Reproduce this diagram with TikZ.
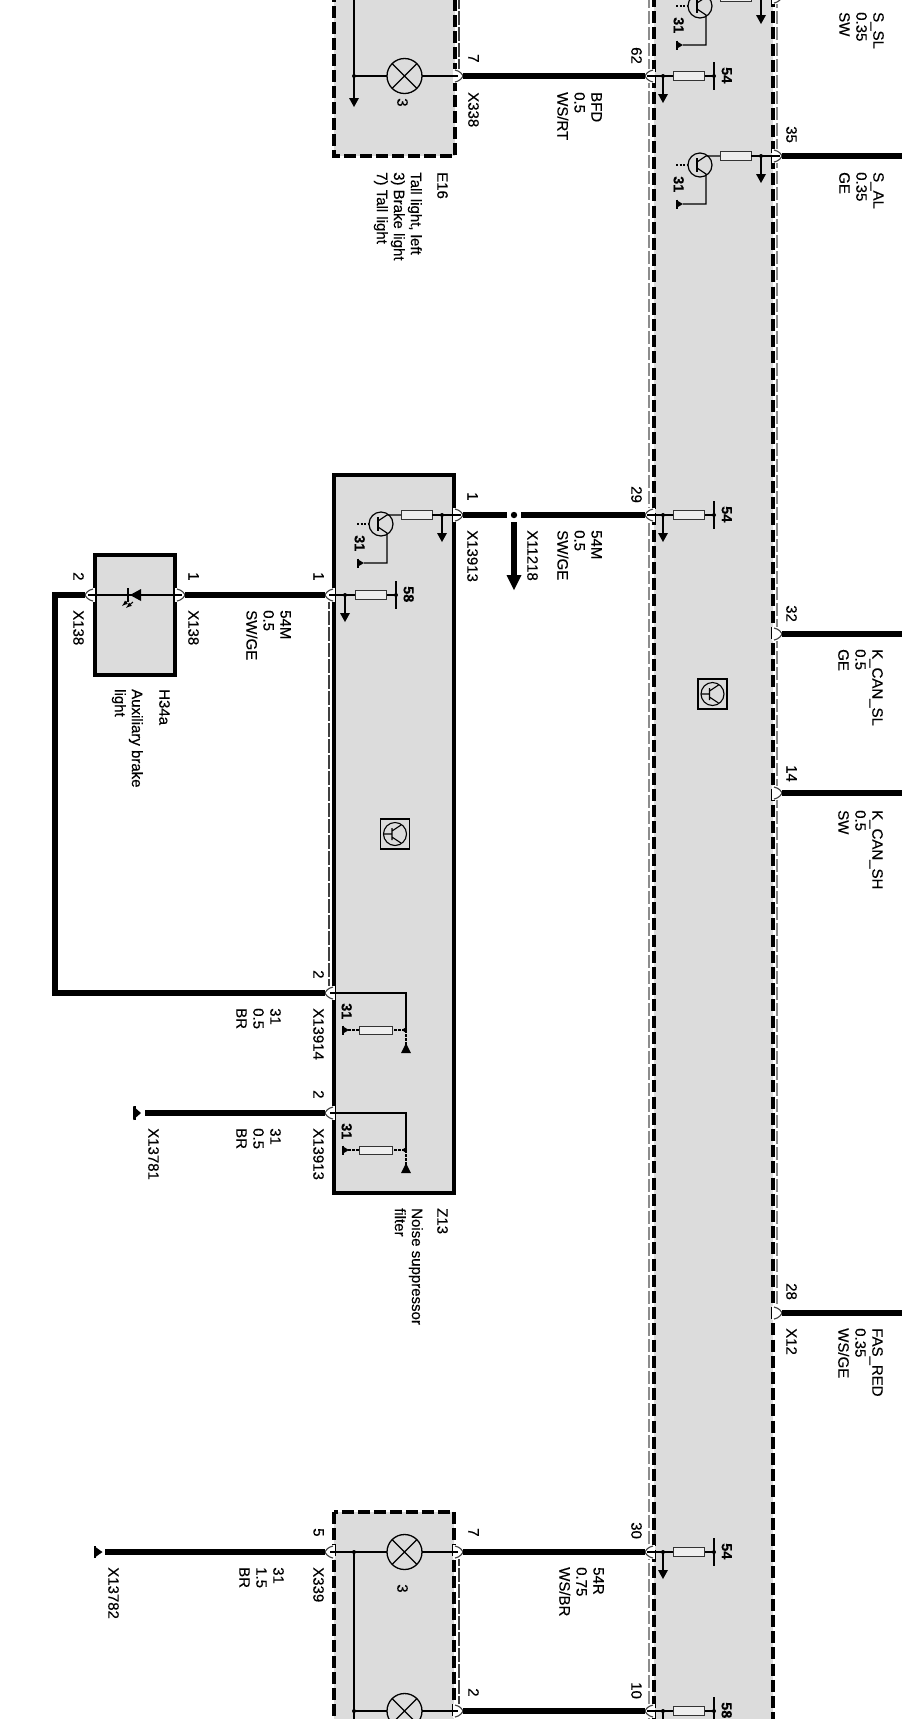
\documentclass[tikz,border=0pt]{standalone}
\usepackage{fontspec}
\setmainfont{Liberation Sans}[RawFeature={embolden=0.35}]
\newcounter{lblc}
\definecolor{boxgray}{HTML}{DCDCDC}
\definecolor{fusegray}{HTML}{EEEEEE}
\tikzset{
  wire/.style={line width=5.2pt,black,line cap=butt,line join=miter},
  thin wire/.style={line width=1.2pt,black},
  solidbox/.style={draw=black,line width=3.6pt,fill=boxgray},
  dashbox/.style={draw=black,line width=3.4pt,fill=boxgray,dash pattern=on 12pt off 4pt},
  blackdash/.style={draw=black,line width=3.4pt,dash pattern=on 12pt off 4.2pt},
  graydash/.style={draw=black!45,line width=1.4pt,dash pattern=on 13pt off 3pt},
  darkdash/.style={draw=black!75,line width=1.1pt,dash pattern=on 14pt off 2pt},
  lbl/.style={rotate=-90,anchor=north west,inner sep=0pt,align=left,font=\fontsize{15}{17}\selectfont},
  blbl/.style={rotate=-90,anchor=north west,inner sep=0pt,align=left,font=\fontsize{14.5}{16}\selectfont\bfseries},
  fuse/.style={draw=black!80,line width=1pt,fill=fusegray},
}
% text: right edge of first line, top of text
\newcommand\wdLab[3]{\stepcounter{lblc}\node[lbl] (t\number\value{lblc}) at (#1,#2) {#3};}
\newcommand\wdBold[3]{\stepcounter{lblc}\node[blbl] (t\number\value{lblc}) at (#1,#2) {#3};}
% connector: name, apex x, y, direction (+1 wire to the right, -1 wire to the left)
\newcommand\wdPin[4]{%
  \coordinate (#1) at (#2,#3);
  \fill[white] ({#2-10*(#4)},#3-7) rectangle ({#2+1*(#4)},#3+7);
  \draw[black!75,line width=1.1pt] ({#2-8*(#4)},#3-6) .. controls ({#2-3*(#4)},#3-5) and ({#2-1*(#4)},#3-2) .. (#2,#3)
     .. controls ({#2-1*(#4)},#3+2) and ({#2-3*(#4)},#3+5) .. ({#2-8*(#4)},#3+6);
}
\newcommand\wdDot[2]{\fill (#1,#2) circle[radius=2];}
\newcommand\wdDown[2]{% thin arrow from junction
  \draw[thin wire] (#1,#2) -- (#1,#2+20);
  \fill (#1-5,#2+18) -- (#1+5,#2+18) -- (#1,#2+27) -- cycle;
}
\newcommand\wdGnd[2]{\fill (#1,#2-3.5) -- (#1+6,#2) -- (#1,#2+3.5) -- cycle; \draw[line width=1.2pt] (#1,#2-4.5) -- (#1,#2+4.5);}
% fuse branch beside a connector: junction x, y, value
\newcommand\wdRes[3]{%
  \draw[thin wire] (#1-16,#2) -- (#1+51,#2);
  \wdDot{#1}{#2}
  \wdDown{#1}{#2}
  \draw[fuse] (#1+10,#2-4.5) rectangle (#1+41,#2+4.5);
  \draw[thin wire] (#1+51,#2-14) -- (#1+51,#2+14);
  \wdDot{#1+51}{#2}
  \wdBold{#1+69}{#2-9}{#3}
}
% transistor with fuse: circle x, wire y
\newcommand\wdTrans[2]{%
  \draw[thin wire] (#1,#2+9) circle[radius=12];
  \draw[thin wire,dash pattern=on 2pt off 1.5pt] (#1-24,#2+9) -- (#1-12,#2+9);
  \draw[line width=1.6pt] (#1-3,#2+2) -- (#1-3,#2+16);
  \draw[thin wire] (#1-3,#2+6) -- (#1+6,#2) -- (#1+20,#2);
  \draw[thin wire] (#1-3,#2+12) -- (#1+6,#2+18) -- (#1+6,#2+48) -- (#1-17,#2+48);
  \wdGnd{#1-23}{#2+48}
  \wdBold{#1-16}{#2+20}{31}
  \draw[fuse] (#1+20,#2-4.5) rectangle (#1+51,#2+4.5);
  \draw[thin wire] (#1+51,#2) -- (#1+80,#2);
  \wdDot{#1+61}{#2}
  \wdDown{#1+61}{#2}
}
% lamp
\newcommand\wdLamp[2]{%
  \draw[line width=1.3pt] (#1,#2) circle[radius=17.5];
  \draw[line width=1.1pt] (#1-12.4,#2-12.4) -- (#1+12.4,#2+12.4) (#1-12.4,#2+12.4) -- (#1+12.4,#2-12.4);
  \draw[thin wire] (#1+17.5,#2) -- (#1+53,#2);
}
% module symbol
\newcommand\wdIcon[2]{%
  \draw[line width=1.2pt] (#1-14.5,#2-15) rectangle (#1+14.5,#2+15);
  \draw[line width=1.1pt] (#1,#2) circle[radius=11.5];
  \draw[line width=1.1pt] (#1-11.5,#2) -- (#1-3,#2) (#1-3,#2-6) -- (#1-3,#2+6) (#1-3,#2-3) -- (#1+6,#2-9) (#1-3,#2+3) -- (#1+6,#2+9);
}
% filter branch in Z13
\newcommand\wdFilter[1]{%
  \draw[thin wire] (330,#1) -- (406,#1) -- (406,#1+37);
  \draw[thin wire,dash pattern=on 3pt off 1pt] (406,#1+37) -- (406,#1+53);
  \fill (401,#1+60) -- (411,#1+60) -- (406,#1+50) -- cycle;
  \wdDot{405}{#1+37}
  \draw[thin wire,dash pattern=on 3pt off 1pt] (405,#1+37) -- (392,#1+37) (359,#1+37) -- (348,#1+37);
  \draw[fuse] (359,#1+33) rectangle (392,#1+41);
  \wdGnd{343}{#1+37}
  \wdBold{352}{#1+10}{31}
}
\begin{document}
\begin{tikzpicture}[x=1pt,y=-1pt]
\useasboundingbox (0,0) rectangle (902,1725);
\fill[white] (0,0) rectangle (902,1725);
\clip (0,0) rectangle (902,1725);

% ---- big module
\fill[boxgray] (654,-5) rectangle (773,1730);
\draw[graydash] (649,-5) -- (649,1730);
\draw[blackdash] (654,-5) -- (654,1730);
\draw[blackdash] (773,-5) -- (773,1730);
\draw[graydash] (777,-5) -- (777,1313);
\wdIcon{712.5}{694}

% ---- boxes
\path[dashbox] (334,-10) rectangle (455,156);
\draw[darkdash] (459,-5) -- (459,76);
\path[solidbox] (334,475) rectangle (454,1193);
\draw[darkdash] (329,595) -- (329,993);
\path[solidbox] (95,555) rectangle (175,675);
\path[dashbox] (334,1512) rectangle (454,1730);
\draw[darkdash] (459,1552) -- (459,1711);
\wdIcon{395}{834}

% ---- connectors
\wdPin{e16r}{463}{76}{1}
\wdPin{m62}{645}{76}{-1}
\wdPin{mSAL}{782}{156}{1}
\wdPin{mSSL}{782}{-3}{1}
\wdPin{m32}{782}{634}{1}
\wdPin{m14}{782}{793}{1}
\wdPin{m28}{782}{1313}{1}
\wdPin{m29}{645}{515}{-1}
\wdPin{m30}{645}{1552}{-1}
\wdPin{m10}{645}{1711}{-1}
\wdPin{zr}{463}{515}{1}
\wdPin{zl1}{325}{595}{-1}
\wdPin{zl2}{325}{993}{-1}
\wdPin{zl3}{325}{1113}{-1}
\wdPin{hr}{185}{595}{1}
\wdPin{hl}{85}{595}{-1}
\wdPin{l5}{325}{1552}{-1}
\wdPin{l7}{463}{1552}{1}
\wdPin{l2}{463}{1711}{1}

% ---- free ends
\coordinate (eSAL) at (905,156);
\coordinate (eSSL) at (905,-3);
\coordinate (e32) at (905,634);
\coordinate (e14) at (905,793);
\coordinate (e28) at (905,1313);
\coordinate (gA) at (145,1113);
\coordinate (gB) at (105,1552);
\coordinate (jl) at (507,515);
\coordinate (jr) at (521,515);
\coordinate (jd) at (514,522);
\coordinate (jt) at (514,590);
\coordinate (c1) at (55,595);
\coordinate (c2) at (55,993);

% ---- thick wires
\draw[wire] (e16r) -- (m62);
\draw[wire] (mSAL) -- (eSAL);
\draw[wire] (mSSL) -- (eSSL);
\draw[wire] (m32) -- (e32);
\draw[wire] (m14) -- (e14);
\draw[wire] (m28) -- (e28);
\draw[wire] (zr) -- (jl);
\draw[wire] (jr) -- (m29);
\draw[wire] (hr) -- (zl1);
\draw[wire] (hl) -- (c1) -- (c2) -- (zl2);
\draw[wire] (gA) -- (zl3);
\draw[wire] (gB) -- (l5);
\draw[wire] (l7) -- (m30);
\draw[wire] (l2) -- (m10);
% junction arrow X11218
\fill (514,515) circle[radius=3.2];
\draw[wire] (jd) -- (514,576);
\fill (506.5,575) -- (521.5,575) -- (jt) -- cycle;
% ground at line ends
\fill (133,1106) -- (141,1113) -- (133,1120) -- cycle;
\draw[line width=2pt] (135,1106) -- (135,1120);
\fill (94,1546) -- (102.5,1552) -- (94,1558) -- cycle;
\draw[line width=2pt] (95,1546) -- (95,1558);

% ---- E16
\draw[thin wire] (354,-5) -- (354,88);
\fill (349,98) -- (359,98) -- (354,107) -- cycle;
\draw[thin wire] (354,88) -- (354,99);
\draw[thin wire] (354,76) -- (387,76);
\wdDot{354}{76}
\wdLamp{404.5}{76}
\wdLab{408}{98}{3}
\wdLab{479}{54}{7}
\wdLab{479}{92}{X338}
\wdLab{642}{47}{62}
\wdLab{602}{92}{BFD\\0.5\\WS/RT}
\wdLab{448}{172}{E16}
\wdLab{422}{172}{Tall light, left\\3) Brake light\\7) Tall light}

% ---- module branches
\wdRes{663}{76}{54}
\wdRes{663}{515}{54}
\wdRes{663}{1552}{54}
\wdRes{663}{1711}{58}
\wdTrans{700}{156}
\wdTrans{700}{-3}
\wdLab{884}{12}{S\_SL\\0.35\\SW}
\wdLab{797}{126}{35}
\wdLab{884}{172}{S\_AL\\0.35\\GE}
\wdLab{642}{486}{29}
\wdLab{602}{530}{54M\\0.5\\SW/GE}
\wdLab{538}{530}{X11218}
\wdLab{797}{605}{32}
\wdLab{883}{649}{K\_CAN\_SL\\0.5\\GE}
\wdLab{797}{765}{14}
\wdLab{883}{810}{K\_CAN\_SH\\0.5\\SW}
\wdLab{797}{1283}{28}
\wdLab{797}{1328}{X12}
\wdLab{883}{1328}{FAS\_RED\\0.35\\WS/GE}
\wdLab{642}{1522}{30}
\wdLab{604}{1567}{54R\\0.75\\WS/BR}
\wdLab{642}{1682}{10}

% ---- Z13
\wdTrans{381}{515}
\wdRes{345}{595}{58}
\wdFilter{993}
\wdFilter{1113}
\wdLab{478}{492}{1}
\wdLab{478}{530}{X13913}
\wdLab{324}{572}{1}
\wdLab{324}{970}{2}
\wdLab{324}{1008}{X13914}
\wdLab{281}{1008}{31\\0.5\\BR}
\wdLab{324}{1090}{2}
\wdLab{324}{1128}{X13913}
\wdLab{281}{1128}{31\\0.5\\BR}
\wdLab{159}{1128}{X13781}
\wdLab{448}{1208}{Z13}
\wdLab{423}{1208}{Noise suppressor\\filter}

% ---- H34a
\draw[thin wire] (88,595) -- (182,595);
\fill (141,589) -- (141,601) -- (130,595) -- cycle;
\draw[line width=1.6pt] (128,588) -- (128,602);
\draw[line width=1pt,->,>=latex] (129,600) -- (122,606);
\draw[line width=1pt,->,>=latex] (133,602) -- (126,608);
\wdLab{199}{572}{1}
\wdLab{199}{610}{X138}
\wdLab{84}{572}{2}
\wdLab{84}{610}{X138}
\wdLab{291}{610}{54M\\0.5\\SW/GE}
\wdLab{170}{689}{H34a}
\wdLab{143}{689}{Auxiliary brake\\light}

% ---- lower lamps
\draw[thin wire] (330,1552) -- (387,1552);
\wdDot{354}{1552}
\draw[line width=1.6pt] (354,1552) -- (354,1725);
\wdLamp{404.5}{1552}
\wdLab{408}{1584}{3}
\draw[thin wire] (354,1711) -- (387,1711);
\wdDot{354}{1711}
\wdLamp{404.5}{1711}
\wdLab{324}{1528}{5}
\wdLab{324}{1567}{X339}
\wdLab{284}{1567}{31\\1.5\\BR}
\wdLab{119}{1567}{X13782}
\wdLab{479}{1528}{7}
\wdLab{479}{1688}{2}

% ---- white band at the foot of the image
\fill[white] (0,1719) rectangle (902,1725);
\end{tikzpicture}
\end{document}
